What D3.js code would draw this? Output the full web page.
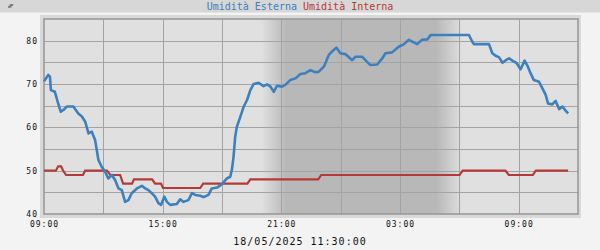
<!DOCTYPE html>
<html>
<head>
<meta charset="utf-8">
<script src="https://cdn.jsdelivr.net/npm/d3@7"></script>
<style>
  body { margin: 0; background: #f3f3f3; }
  svg { display: block; }
  text { font-family: "DejaVu Sans Mono", monospace; }
</style>
</head>
<body>
<div id="chart"></div>
<script>
// Umidità esterna / interna, 17/05 09:00 -> 18/05 11:30
const extTimes = ["17 09:00","17 09:13","17 09:18","17 09:21","17 09:33","17 09:43","17 09:51","17 09:59","17 10:09","17 10:29",
  "17 10:44","17 10:55","17 11:05","17 11:15","17 11:25","17 11:35","17 11:45","17 11:55","17 12:05","17 12:15",
  "17 12:26","17 12:36","17 12:46","17 12:56","17 13:06","17 13:16","17 13:26","17 13:42","17 13:57","17 14:07",
  "17 14:17","17 14:27","17 14:37","17 14:47","17 14:55","17 15:05","17 15:13","17 15:23","17 15:43","17 15:53",
  "17 16:03","17 16:18","17 16:29","17 16:39","17 16:54","17 17:04","17 17:19","17 17:29","17 17:45","17 18:00",
  "17 18:15","17 18:25","17 18:30","17 18:35","17 18:40","17 18:45","17 18:55","17 19:06","17 19:16","17 19:26",
  "17 19:36","17 19:51","17 20:06","17 20:17","17 20:27","17 20:37","17 20:47","17 21:02","17 21:12","17 21:27",
  "17 21:43","17 21:58","17 22:13","17 22:28","17 22:43","17 22:53","17 23:09","17 23:24","17 23:34","17 23:47",
  "17 23:59","18 00:14","18 00:35","18 00:45","18 01:05","18 01:20","18 01:30","18 01:51","18 02:06","18 02:16",
  "18 02:36","18 02:56","18 03:12","18 03:27","18 03:37","18 03:52","18 04:07","18 04:23","18 04:33","18 05:23",
  "18 06:29","18 06:39","18 06:44","18 07:30","18 07:40","18 07:50","18 08:00","18 08:11","18 08:21","18 08:31",
  "18 08:41","18 08:54","18 09:06","18 09:18","18 09:28","18 09:36","18 09:46","18 10:02","18 10:12","18 10:22",
  "18 10:29","18 10:42","18 10:52","18 11:03","18 11:13","18 11:23","18 11:30"];
const extValues = [70.6,72.1,71.7,68.6,68.2,65.5,63.6,64.0,64.8,64.8,
  63.2,62.5,61.3,58.6,59.0,57.1,52.5,50.9,49.8,48.2,
  49.0,47.8,45.9,45.5,42.8,43.2,44.8,45.9,46.5,45.9,
  45.5,44.8,44.0,42.5,42.1,44.0,42.8,42.1,42.3,43.4,
  42.8,43.2,44.8,44.4,44.2,43.9,44.4,45.9,46.1,46.9,
  48.2,48.6,50.2,53.2,57.8,60.1,62.3,64.8,66.3,68.6,
  70.0,70.3,69.5,69.9,69.4,68.2,69.6,69.4,69.8,70.9,
  71.3,72.3,72.5,73.2,72.7,72.8,74.0,76.7,77.5,78.4,
  77.1,76.9,75.5,76.3,76.3,75.1,74.4,74.5,75.9,77.1,
  77.3,78.6,79.2,80.2,79.8,79.2,80.2,80.3,81.3,81.3,
  81.3,79.8,79.2,79.2,77.1,76.5,76.2,74.9,75.5,75.9,
  75.4,74.8,73.4,75.4,74.0,72.5,70.9,70.5,69.0,67.5,
  65.5,65.3,66.1,64.2,64.8,63.8,63.2];

const intTimes = ["17 09:00","17 09:36","17 09:43","17 09:52","17 09:58","17 10:07","17 10:58","17 11:05","17 12:11","17 12:21",
  "17 12:51","17 13:00","17 13:27","17 13:33","17 14:28","17 14:37","17 14:55","17 15:01","17 16:54","17 17:03",
  "17 19:17","17 19:26","17 22:52","17 23:01","18 06:01","18 06:10","18 08:20","18 08:30","18 09:43","18 09:52",
  "18 11:30"];
const intValues = [50,50,51,51,50,49,49,50,50,49,
  49,47,47,48,48,47,47,46,46,47,
  47,48,48,49,49,50,50,49,49,50,
  50];

// notte: inizio sfumatura, buio pieno, fine buio, fine sfumatura
const nightTimes = ["17 20:00","17 21:15","18 04:50","18 06:10"];
const xStart = "17 09:00", xEnd = "18 12:00";
const xTicks = ["17 09:00","17 15:00","17 21:00","18 03:00","18 09:00"];
const yTicks = [40, 50, 60, 70, 80];
const seriesNames = ["Umidità Esterna", "Umidità Interna"];
const seriesColors = ["#3d80bd", "#b43a3a"];
const footer = "18/05/2025 11:30:00";

const parse = s => d3.timeParse("%Y-%m-%d %H:%M")("2025-05-" + s);

const W = 600, H = 250;
const plot = { left: 44, right: 578, top: 19, bottom: 214 };

const svg = d3.select('#chart').append('svg')
  .attr('width', W).attr('height', H);

// top bar
svg.append('rect').attr('x', 0).attr('y', 0).attr('width', W).attr('height', 12.5).attr('fill', '#d7d7d7');
// outer frame
svg.append('rect').attr('x', 40).attr('y', 15).attr('width', 541).attr('height', 203).attr('fill', '#d9d9d9');

const x = d3.scaleTime()
  .domain([parse(xStart), parse(xEnd)])
  .range([plot.left, plot.right]);
const y = d3.scaleLinear()
  .domain([40, 85])
  .range([plot.bottom, plot.top]);

// plot background
svg.append('rect')
  .attr('x', plot.left).attr('y', plot.top)
  .attr('width', plot.right - plot.left).attr('height', plot.bottom - plot.top)
  .attr('fill', '#e0e0e0');

// night shading with soft edges
const nt = nightTimes.map(parse);
const n0 = x(nt[0]), n3 = x(nt[3]);
const grad = svg.append('defs').append('linearGradient')
  .attr('id', 'night').attr('x1', 0).attr('x2', 1).attr('y1', 0).attr('y2', 0);
grad.append('stop').attr('offset', 0).attr('stop-color', '#e0e0e0');
grad.append('stop').attr('offset', (x(nt[1]) - n0) / (n3 - n0)).attr('stop-color', '#b8b8b8');
grad.append('stop').attr('offset', (x(nt[2]) - n0) / (n3 - n0)).attr('stop-color', '#b8b8b8');
grad.append('stop').attr('offset', 1).attr('stop-color', '#e0e0e0');
svg.append('rect')
  .attr('x', n0).attr('y', plot.top)
  .attr('width', n3 - n0).attr('height', plot.bottom - plot.top)
  .attr('fill', 'url(#night)');

// grid
const grid = svg.append('g').attr('stroke', '#a4a4a4').attr('stroke-width', 1);
grid.selectAll('.gy')
  .data(d3.range(45, 85, 5))
  .enter().append('line')
  .attr('x1', plot.left).attr('x2', plot.right)
  .attr('y1', d => Math.round(y(d)) + 0.5).attr('y2', d => Math.round(y(d)) + 0.5);
grid.selectAll('.gx')
  .data(d3.timeHour.every(3).range(parse(xStart), parse(xEnd)).slice(1))
  .enter().append('line')
  .attr('y1', plot.top).attr('y2', plot.bottom)
  .attr('x1', d => Math.round(x(d)) + 0.5).attr('x2', d => Math.round(x(d)) + 0.5);

// border
svg.append('rect')
  .attr('x', plot.left).attr('y', plot.top)
  .attr('width', plot.right - plot.left).attr('height', plot.bottom - plot.top)
  .attr('fill', 'none').attr('stroke', '#999').attr('stroke-width', 1.6);

// lines
const line = d3.line().x(d => x(d[0])).y(d => y(d[1]));
const intData = intTimes.map((t, i) => [parse(t), intValues[i]]);
const extData = extTimes.map((t, i) => [parse(t), extValues[i]]);

svg.append('path').datum(intData)
  .attr('d', line).attr('fill', 'none')
  .attr('stroke', seriesColors[1]).attr('stroke-width', 2.2);
svg.append('path').datum(extData)
  .attr('d', line).attr('fill', 'none')
  .attr('stroke', seriesColors[0]).attr('stroke-width', 2.6)
  .attr('stroke-linejoin', 'round');

// axes labels
const xAxis = d3.axisBottom(x)
  .tickValues(xTicks.map(parse))
  .tickFormat(d3.timeFormat('%H:%M'))
  .tickSize(0).tickPadding(7);
const gx = svg.append('g').attr('transform', `translate(0,${plot.bottom})`).call(xAxis);
gx.select('.domain').remove();
gx.selectAll('text')
  .attr('font-family', '"DejaVu Sans Mono", monospace')
  .attr('font-size', 8).attr('letter-spacing', 1).attr('fill', '#111');

const yAxis = d3.axisLeft(y).tickValues(yTicks).tickSize(0).tickPadding(6);
const gy = svg.append('g').attr('transform', `translate(${plot.left},0)`).call(yAxis);
gy.select('.domain').remove();
gy.selectAll('text')
  .attr('font-family', '"DejaVu Sans Mono", monospace')
  .attr('font-size', 8).attr('letter-spacing', 1).attr('fill', '#111');

// title
const title = svg.append('text')
  .attr('x', 300).attr('y', 9.5)
  .attr('text-anchor', 'middle')
  .attr('font-family', '"Liberation Mono", monospace')
  .attr('font-size', 10);
seriesNames.forEach((name, i) => {
  title.append('tspan').attr('fill', seriesColors[i]).text((i ? ' ' : '') + name);
});

// unit label
svg.append('text')
  .attr('transform', 'translate(13,6) rotate(-90)')
  .attr('text-anchor', 'middle')
  .attr('font-size', 7).attr('fill', '#111')
  .text('%');

// footer date
svg.append('text')
  .attr('x', 300).attr('y', 245)
  .attr('text-anchor', 'middle')
  .attr('font-size', 10).attr('letter-spacing', 1).attr('fill', '#111')
  .text(footer);
</script>
</body>
</html>
